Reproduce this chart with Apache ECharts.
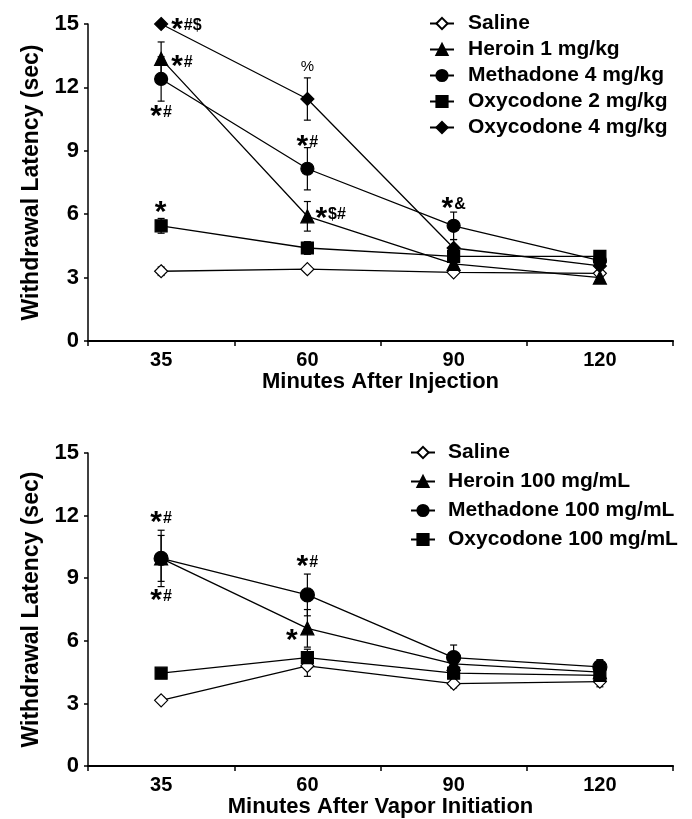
<!DOCTYPE html>
<html><head><meta charset="utf-8">
<script src="https://cdn.jsdelivr.net/npm/echarts@6/dist/echarts.min.js"></script>
<style>html,body{margin:0;padding:0;background:#fff}#c{width:692px;height:819px}</style>
</head><body><div id="c"></div>
<script>
// ---------- data ----------
const categories = ['35', '60', '90', '120'];
const yMin = 0, yMax = 15, yStep = 3;

// Panel A: Minutes After Injection
const namesA = ['Saline', 'Heroin 1 mg/kg', 'Methadone 4 mg/kg', 'Oxycodone 2 mg/kg', 'Oxycodone 4 mg/kg'];
const salineA = [3.3, 3.4, 3.25, 3.2];
const heroinA = [13.35, 5.9, 3.65, 3.0];
const methadoneA = [12.4, 8.15, 5.45, 3.8];
const oxy2A = [5.45, 4.4, 4.0, 4.0];
const oxy4A = [15.0, 11.45, 4.4, 3.55];
const salineAErr = [0.2, 0.15, 0.1, 0.1];
const heroinAErr = [0.8, 0.7, 0.4, 0.15];
const methadoneAErr = [1.05, 1.0, 0.65, 0.2];
const oxy2AErr = [0.35, 0.3, 0.3, 0.2];
const oxy4AErr = [0, 1.0, 0.4, 0.2];
// annotations: [series index, category index, text]
const annotA = [
  [4, 0, '*#$'], [1, 0, '*#'], [2, 0, '*#'], [4, 1, '%'],
  [2, 1, '*#'], [1, 1, '*$#'], [3, 0, '*'], [2, 2, '*&']
];

// Panel B: Minutes After Vapor Initiation
const namesB = ['Saline', 'Heroin 100 mg/mL', 'Methadone 100 mg/mL', 'Oxycodone 100 mg/mL'];
const salineB = [3.15, 4.8, 3.95, 4.05];
const heroinB = [9.95, 6.6, 4.9, 4.5];
const methadoneB = [9.95, 8.2, 5.2, 4.75];
const oxyB = [4.45, 5.2, 4.45, 4.35];
const salineBErr = [0.15, 0.5, 0.2, 0.25];
const heroinBErr = [1.1, 0.9, 0.5, 0.3];
const methadoneBErr = [1.35, 1.0, 0.6, 0.35];
const oxyBErr = [0.15, 0.4, 0.3, 0.3];
const annotB = [
  [2, 0, '*#'], [1, 0, '*#'], [2, 1, '*#'], [1, 1, '*']
];

// ---------- layout / style ----------
const FONT = 'Arial, "Liberation Sans", sans-serif';
const annotLayoutA = [
  {dx: 10, dy: 2, align: 'left'}, {dx: 10, dy: 4, align: 'left'}, {dx: 0, dy: 34, align: 'center'},
  {dx: 0, dy: -32, align: 'center'}, {dx: 0, dy: -26, align: 'center'}, {dx: 8, dy: -2, align: 'left'},
  {dx: 0, dy: -17, align: 'center'}, {dx: 0, dy: -21, align: 'center'}
];
const annotLayoutB = [
  {dx: 0, dy: -40, align: 'center'}, {dx: 0, dy: 38, align: 'center'},
  {dx: 0, dy: -32, align: 'center'}, {dx: -15, dy: 8, align: 'center'}
];
const symA = [
  {symbol: 'diamond', size: 13, fill: '#fff'},
  {symbol: 'triangle', size: 13, fill: '#000'},
  {symbol: 'circle', size: 13, fill: '#000'},
  {symbol: 'rect', size: 12, fill: '#000'},
  {symbol: 'diamond', size: 13, fill: '#000'}
];
const symB = [
  {symbol: 'diamond', size: 13, fill: '#fff'},
  {symbol: 'triangle', size: 13, fill: '#000'},
  {symbol: 'circle', size: 14, fill: '#000'},
  {symbol: 'rect', size: 12, fill: '#000'}
];

function richText(t) {
  let out = '';
  for (const ch of t) {
    out += ch === '*' ? '{s|*}' : (ch === '%' ? '{p|%}' : '{t|' + ch + '}');
  }
  return out;
}
const richStyles = {
  s: {fontSize: 30, fontWeight: 'bold', color: '#000', fontFamily: FONT, padding: [8, 1, 0, 0]},
  t: {fontSize: 16, fontWeight: 'bold', color: '#000', fontFamily: FONT},
  p: {fontSize: 15, color: '#000', fontFamily: FONT}
};

function lineSeries(name, vals, sym, axis, annots, layouts, sIdx) {
  const mp = [];
  annots.forEach((a, k) => {
    if (a[0] !== sIdx) return;
    const L = layouts[k];
    mp.push({
      coord: [a[1], vals[a[1]]],
      value: a[2],
      label: {offset: [L.dx, L.dy], align: L.align}
    });
  });
  return {
    type: 'line', name, data: vals, xAxisIndex: axis, yAxisIndex: axis,
    symbol: sym.symbol, symbolSize: sym.size, showSymbol: true, z: 3,
    itemStyle: {color: sym.fill, borderColor: '#000', borderWidth: 1.2, opacity: 1},
    lineStyle: {color: '#000', width: 1.3},
    emphasis: {disabled: true}, animation: false,
    markPoint: mp.length ? {
      symbol: 'circle', symbolSize: 0, silent: true, animation: false,
      itemStyle: {color: 'rgba(0,0,0,0)'},
      label: {show: true, position: 'inside', verticalAlign: 'middle',
        formatter: p => richText(p.value), rich: richStyles},
      data: mp
    } : undefined
  };
}

function errSeries(vals, errs, axis) {
  return {
    type: 'custom', xAxisIndex: axis, yAxisIndex: axis, z: 1, silent: true, animation: false,
    data: vals.map((v, k) => [k, v - errs[k], v + errs[k], errs[k]]),
    encode: {x: 0, y: [1, 2]},
    renderItem(params, api) {
      if (api.value(3) <= 0) return null;
      const lo = api.coord([api.value(0), api.value(1)]);
      const hi = api.coord([api.value(0), api.value(2)]);
      const w = 3.5, st = {stroke: '#000', lineWidth: 1.2};
      return {type: 'group', children: [
        {type: 'line', shape: {x1: lo[0], y1: lo[1], x2: hi[0], y2: hi[1]}, style: st},
        {type: 'line', shape: {x1: hi[0] - w, y1: hi[1], x2: hi[0] + w, y2: hi[1]}, style: st},
        {type: 'line', shape: {x1: lo[0] - w, y1: lo[1], x2: lo[0] + w, y2: lo[1]}, style: st}
      ]};
    }
  };
}

function xAxisCfg(idx, name, gap) {
  return {
    type: 'category', gridIndex: idx, data: categories, boundaryGap: true,
    axisLine: {onZero: false, lineStyle: {color: '#000', width: 2.2}},
    axisTick: {show: true, inside: false, length: 5, lineStyle: {color: '#000', width: 1.5}},
    axisLabel: {fontSize: 20, fontWeight: 'bold', color: '#000', fontFamily: FONT, margin: 9},
    splitLine: {show: false},
    name, nameLocation: 'middle', nameGap: gap,
    nameTextStyle: {fontSize: 22, fontWeight: 'bold', color: '#000', fontFamily: FONT}
  };
}
function yAxisCfg(idx) {
  return {
    type: 'value', gridIndex: idx, min: yMin, max: yMax, interval: yStep,
    axisLine: {show: true, lineStyle: {color: '#000', width: 1.5}},
    axisTick: {show: true, length: 4, lineStyle: {color: '#000', width: 1.5}},
    axisLabel: {fontSize: 22, fontWeight: 'bold', color: '#000', fontFamily: FONT, margin: 9},
    splitLine: {show: false},
    name: 'Withdrawal Latency (sec)', nameLocation: 'middle', nameGap: 45,
    nameTextStyle: {fontSize: 23, fontWeight: 'bold', color: '#000', fontFamily: FONT}
  };
}
function legendCfg(names, left, top, gap, padLeft) {
  return {
    data: names, orient: 'vertical', left, top, padding: 0, itemGap: gap,
    itemWidth: 24, itemHeight: 14, selectedMode: false,
    textStyle: {fontSize: 21, fontWeight: 'bold', color: '#000', fontFamily: FONT,
      lineHeight: 20, padding: [0, 0, 0, padLeft]}
  };
}

const valsA = [salineA, heroinA, methadoneA, oxy2A, oxy4A];
const errsA = [salineAErr, heroinAErr, methadoneAErr, oxy2AErr, oxy4AErr];
const valsB = [salineB, heroinB, methadoneB, oxyB];
const errsB = [salineBErr, heroinBErr, methadoneBErr, oxyBErr];

const series = [];
valsA.forEach((v, i) => series.push(errSeries(v, errsA[i], 0)));
valsB.forEach((v, i) => series.push(errSeries(v, errsB[i], 1)));
valsA.forEach((v, i) => series.push(lineSeries(namesA[i], v, symA[i], 0, annotA, annotLayoutA, i)));
valsB.forEach((v, i) => series.push(lineSeries(namesB[i], v, symB[i], 1, annotB, annotLayoutB, i)));

const chart = echarts.init(document.getElementById('c'), null, {renderer: 'canvas'});
chart.setOption({
  backgroundColor: '#fff',
  animation: false,
  textStyle: {fontFamily: FONT},
  grid: [
    {left: 88, right: 19, top: 24, height: 317},
    {left: 88, right: 19, top: 453, height: 315}
  ],
  xAxis: [xAxisCfg(0, 'Minutes After Injection', 29), xAxisCfg(1, 'Minutes After Vapor Initiation', 27)],
  yAxis: [yAxisCfg(0), yAxisCfg(1)],
  legend: [legendCfg(namesA, 429, 13, 5, 9), legendCfg(namesB, 410, 442, 8, 8)],
  series
});
</script></body></html>
